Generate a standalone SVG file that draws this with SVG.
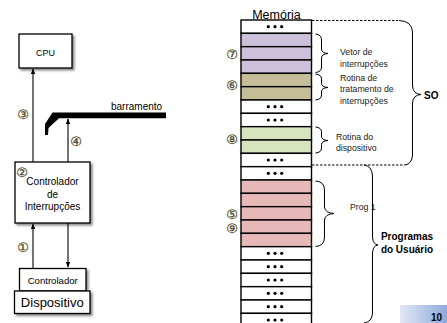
<svg xmlns="http://www.w3.org/2000/svg" width="447" height="323" viewBox="0 0 447 323">
<style>
.box{fill:#fff;stroke:#000;stroke-width:1.3}
.t{font-family:"Liberation Sans",Arial,sans-serif;fill:#000}
.sm{font-family:"Liberation Sans",Arial,sans-serif;font-size:8.7px;fill:#222}
.b{font-family:"Liberation Sans",Arial,sans-serif;font-weight:bold;font-size:10px;fill:#000}
.num{font-family:"DejaVu Sans",sans-serif;font-size:13px;fill:#564d2e;stroke:#564d2e;stroke-width:0.3}
.row{stroke:#000;stroke-width:1.4}
.w{fill:#fff}.pu{fill:#ccc0da}.tan{fill:#c4bd97}.gr{fill:#d7e4bd}.pk{fill:#e6b9b8}
.brace{fill:none;stroke:#000;stroke-width:1}
.dash{fill:none;stroke:#000;stroke-width:1;stroke-dasharray:2.5 1.5}
.ln{stroke:#000;stroke-width:1.1;fill:none}
</style>
<defs>
<marker id="ah" viewBox="0 0 10 10" refX="9" refY="5" markerWidth="5" markerHeight="5" orient="auto">
<path d="M0,1 L10,5 L0,9 z" fill="#000"/>
</marker>
<filter id="sh" x="-20%" y="-20%" width="150%" height="150%">
<feDropShadow dx="2" dy="2" stdDeviation="1" flood-color="#000" flood-opacity="0.45"/>
</filter>
<linearGradient id="pg" x1="0" y1="0" x2="1" y2="0">
<stop offset="0" stop-color="#e2e8f4"/>
<stop offset="1" stop-color="#8ea9db"/>
</linearGradient>
<g id="dots"><circle cx="-6.7" cy="0" r="1.6" fill="#000"/><circle cx="0" cy="0" r="1.6" fill="#000"/><circle cx="6.7" cy="0" r="1.6" fill="#000"/></g>
</defs>

<g id="connectors">
<line class="ln" x1="33" y1="162" x2="33" y2="69" marker-end="url(#ah)"/>
<line class="ln" x1="68" y1="162" x2="68" y2="119" marker-end="url(#ah)"/>
<line class="ln" x1="33" y1="268" x2="33" y2="224" marker-end="url(#ah)"/>
<line class="ln" x1="68" y1="223" x2="68" y2="267" marker-end="url(#ah)"/>
</g>

<g id="bus">
<polygon points="52.5,112.5 166,112.5 166,118.3 59,118.3 48.5,128 48,135 45,135 45,124" fill="#000"/>
<text class="t" x="111" y="110" font-size="10">barramento</text>
</g>

<g id="cpu">
<rect class="box" x="19" y="34" width="53" height="34" filter="url(#sh)"/>
<text class="t" x="45.5" y="56" font-size="9" text-anchor="middle">CPU</text>
</g>

<g id="int-ctrl">
<rect class="box" x="15" y="162" width="75" height="61" filter="url(#sh)"/>
<text class="t" x="52.5" y="185" font-size="10" text-anchor="middle">Controlador</text>
<text class="t" x="52.5" y="197.5" font-size="10" text-anchor="middle">de</text>
<text class="t" x="52.5" y="210" font-size="10" text-anchor="middle">Interrupções</text>
</g>

<g id="dev-ctrl">
<rect class="box" x="19.5" y="268.5" width="66.5" height="22.5" filter="url(#sh)"/>
<text class="t" x="52.7" y="284" font-size="9.6" text-anchor="middle">Controlador</text>
</g>

<g id="device">
<rect class="box" x="14.5" y="291" width="75.5" height="22.5" filter="url(#sh)"/>
<text class="t" x="52.3" y="307" font-size="13" text-anchor="middle">Dispositivo</text>
</g>

<g id="steps-left">
<text class="num" x="23" y="119" text-anchor="middle">③</text>
<text class="num" x="76" y="146" text-anchor="middle">④</text>
<text class="num" x="22" y="176.5" text-anchor="middle">②</text>
<text class="num" x="23" y="251.5" text-anchor="middle">①</text>
</g>

<g id="memory">
<text class="t" x="276.5" y="19.3" font-size="12.5" text-anchor="middle">Memória</text>
<rect class="row w" x="241" y="20" width="70.5" height="13.33"/>
<rect class="row pu" x="241" y="33.33" width="70.5" height="13.33"/>
<rect class="row pu" x="241" y="46.67" width="70.5" height="13.33"/>
<rect class="row pu" x="241" y="60" width="70.5" height="13.33"/>
<rect class="row tan" x="241" y="73.33" width="70.5" height="13.33"/>
<rect class="row tan" x="241" y="86.67" width="70.5" height="13.33"/>
<rect class="row w" x="241" y="100" width="70.5" height="13.33"/>
<rect class="row w" x="241" y="113.33" width="70.5" height="13.33"/>
<rect class="row gr" x="241" y="126.67" width="70.5" height="13.33"/>
<rect class="row gr" x="241" y="140" width="70.5" height="13.33"/>
<rect class="row w" x="241" y="153.33" width="70.5" height="13.33"/>
<rect class="row w" x="241" y="166.67" width="70.5" height="13.33"/>
<rect class="row pk" x="241" y="180" width="70.5" height="13.33"/>
<rect class="row pk" x="241" y="193.33" width="70.5" height="13.33"/>
<rect class="row pk" x="241" y="206.67" width="70.5" height="13.33"/>
<rect class="row pk" x="241" y="220" width="70.5" height="13.33"/>
<rect class="row pk" x="241" y="233.33" width="70.5" height="13.33"/>
<rect class="row w" x="241" y="246.67" width="70.5" height="13.33"/>
<rect class="row w" x="241" y="260" width="70.5" height="13.33"/>
<rect class="row w" x="241" y="273.33" width="70.5" height="13.33"/>
<rect class="row w" x="241" y="286.67" width="70.5" height="13.33"/>
<rect class="row w" x="241" y="300" width="70.5" height="13.33"/>
<rect class="row w" x="241" y="313.33" width="70.5" height="13.33"/>
<use href="#dots" x="275" y="26.7"/>
<use href="#dots" x="275" y="106.7"/>
<use href="#dots" x="275" y="120"/>
<use href="#dots" x="275" y="160"/>
<use href="#dots" x="275" y="173.3"/>
<use href="#dots" x="275" y="253.3"/>
<use href="#dots" x="275" y="266.7"/>
<use href="#dots" x="275" y="280"/>
<use href="#dots" x="275" y="293.3"/>
<use href="#dots" x="275" y="306.7"/>
<use href="#dots" x="275" y="320"/>
</g>

<g id="steps-mem">
<text class="num" x="232" y="58.5" text-anchor="middle">⑦</text>
<text class="num" x="232" y="90" text-anchor="middle">⑥</text>
<text class="num" x="232" y="143.5" text-anchor="middle">⑧</text>
<text class="num" x="232" y="218.5" text-anchor="middle">⑤</text>
<text class="num" x="232" y="232.5" text-anchor="middle">⑨</text>
</g>

<g id="so-region">
<path class="dash" d="M312,20.5 H398"/>
<path class="dash" d="M312,165 H405"/>
<path class="brace" d="M399,20.5 Q412,21 412.5,32 L412.5,86 Q413,94 421,94.5 Q413,95 412.5,103 L412.5,155 Q412,164 405,165"/>
<text class="b" x="424" y="98.5">SO</text>
</g>

<g id="user-region">
<path class="brace" d="M364,165 Q372,166 372.5,176 L372.5,237 Q373,244.5 378,245 Q373,245.5 372.5,253 L372.5,313 Q372,322 364,323"/>
<text class="b" x="407" y="240" text-anchor="middle">Programas</text>
<text class="b" x="407" y="253" text-anchor="middle">do Usuário</text>
</g>

<g id="vetor">
<path class="brace" d="M315.5,34 Q321.5,34.5 321.5,40 L321.5,49 Q321.5,53 328,53.5 Q321.5,54 321.5,58 L321.5,67 Q321.5,72 315.5,72.5"/>
<text class="sm" x="340" y="55">Vetor de</text>
<text class="sm" x="340" y="66.5">interrupções</text>
</g>

<g id="rotina-trat">
<path class="brace" d="M315.5,74 Q321.5,74.5 321.5,79 L321.5,83.5 Q321.5,87 328,87.5 Q321.5,88 321.5,91.5 L321.5,95 Q321.5,99.5 315.5,100"/>
<text class="sm" x="340" y="80.5">Rotina de</text>
<text class="sm" x="340" y="92">tratamento de</text>
<text class="sm" x="340" y="103.5">interrupções</text>
</g>

<g id="rotina-disp">
<path class="brace" d="M315.5,127 Q321.5,127.5 321.5,132 L321.5,136.5 Q321.5,140 328,140.5 Q321.5,141 321.5,144.5 L321.5,148 Q321.5,152.5 315.5,153"/>
<text class="sm" x="336" y="139.5">Rotina do</text>
<text class="sm" x="336" y="150.5">dispositivo</text>
</g>

<g id="prog1">
<path class="brace" d="M315.5,181 Q324.5,181.5 324.5,190 L324.5,207 Q325,213 334,213.5 Q325,214 324.5,220 L324.5,237 Q324.5,246 315.5,246.5"/>
<text class="sm" x="350" y="209.5">Prog 1</text>
</g>

<g id="page">
<rect x="400" y="305" width="47" height="18" fill="url(#pg)"/>
<text class="b" x="442" y="320.5" font-size="12" text-anchor="end">10</text>
</g>
</svg>
